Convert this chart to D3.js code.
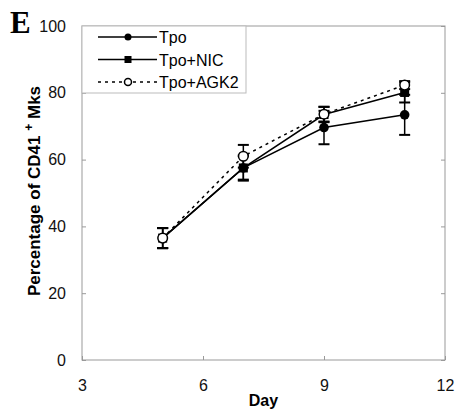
<!DOCTYPE html>
<html>
<head>
<meta charset="utf-8">
<script src="https://cdn.jsdelivr.net/npm/d3@7"></script>
<style>
  body { margin: 0; background: #fff; }
  text { font-family: "Liberation Sans", Arial, sans-serif; }
</style>
</head>
<body>
<div class="chart"></div>
<script>
// data
const days = [5, 7, 9, 11];
const seriesNames = ["Tpo", "Tpo+NIC", "Tpo+AGK2"];
const tpoValues = [36.5, 57.5, 69.6, 73.4];
const tpoErrors = [3, 3.5, 5, 6];
const nicValues = [36.5, 57.5, 73.5, 80.1];
const nicErrors = [3, 3.8, 2.3, 3];
const agkValues = [36.5, 61, 73.6, 82.3];
const agkErrors = [3, 3.4, 2.2, 1.2];
const xTicks = [3, 6, 9, 12];
const yTicks = [0, 20, 40, 60, 80, 100];

const svgWidth = 457;
const svgHeight = 415;
const margin = { top: 26, right: 12, bottom: 55, left: 82 };
const width = svgWidth - margin.left - margin.right;
const height = svgHeight - margin.top - margin.bottom;

const svg = d3.select(".chart")
  .append("svg")
  .attr("width", svgWidth)
  .attr("height", svgHeight);

const chartGroup = svg.append("g")
  .attr("transform", `translate(${margin.left}, ${margin.top})`);

// scales
const xScale = d3.scaleLinear().domain([3, 12]).range([0, width]);
const yScale = d3.scaleLinear().domain([0, 100]).range([height, 0]);

const frameColor = "#999";

// axes with inward ticks
const axisStyle = g => {
  g.select(".domain").remove();
  g.selectAll(".tick line").attr("stroke", frameColor);
  g.selectAll(".tick text").attr("font-size", 16).attr("fill", "#111");
};

chartGroup.append("g")
  .attr("transform", `translate(0, ${height})`)
  .call(d3.axisBottom(xScale).tickValues(xTicks).tickSizeInner(-4).tickSizeOuter(0).tickPadding(20))
  .call(axisStyle);

chartGroup.append("g")
  .call(d3.axisLeft(yScale).tickValues(yTicks).tickSizeInner(-4).tickSizeOuter(0).tickPadding(16))
  .call(axisStyle);

chartGroup.append("g")
  .attr("transform", `translate(${width}, 0)`)
  .call(d3.axisRight(yScale).tickValues(yTicks).tickSizeInner(-4).tickSizeOuter(0).tickFormat(""))
  .call(axisStyle);

// frame
chartGroup.append("rect")
  .attr("width", width)
  .attr("height", height)
  .attr("fill", "none")
  .attr("stroke", frameColor)
  .attr("stroke-width", 1);

// series
const series = [
  { name: seriesNames[0], values: tpoValues, errors: tpoErrors, marker: "circle", fill: "#000", dash: null },
  { name: seriesNames[1], values: nicValues, errors: nicErrors, marker: "square", fill: "#000", dash: null },
  { name: seriesNames[2], values: agkValues, errors: agkErrors, marker: "circle", fill: "#fff", dash: "3,4" }
];

const line = d3.line()
  .x((d, i) => xScale(days[i]))
  .y(d => yScale(d));

// error bars
series.forEach(s => {
  const g = chartGroup.append("g");
  s.values.forEach((v, i) => {
    const x = xScale(days[i]);
    const lo = yScale(v - s.errors[i]);
    const hi = yScale(v + s.errors[i]);
    g.append("line").attr("x1", x).attr("x2", x).attr("y1", lo).attr("y2", hi)
      .attr("stroke", "#000").attr("stroke-width", 1.5);
    [lo, hi].forEach(y => {
      g.append("line").attr("x1", x - 5.5).attr("x2", x + 5.5).attr("y1", y).attr("y2", y)
        .attr("stroke", "#000").attr("stroke-width", 2);
    });
  });
});

// lines
series.forEach(s => {
  chartGroup.append("path")
    .attr("d", line(s.values))
    .attr("fill", "none")
    .attr("stroke", "#000")
    .attr("stroke-width", 1.5)
    .attr("stroke-dasharray", s.dash);
});

function drawMarker(g, s, x, y, size) {
  if (s.marker === "square") {
    g.append("rect")
      .attr("x", x - size).attr("y", y - size)
      .attr("width", size * 2).attr("height", size * 2)
      .attr("fill", s.fill);
  } else {
    g.append("circle")
      .attr("cx", x).attr("cy", y).attr("r", size)
      .attr("fill", s.fill)
      .attr("stroke", "#000")
      .attr("stroke-width", s.fill === "#fff" ? 1.5 : 0);
  }
}

// markers
series.forEach(s => {
  const g = chartGroup.append("g");
  s.values.forEach((v, i) => drawMarker(g, s, xScale(days[i]), yScale(v), s.marker === "square" ? 4.5 : 4.8));
});

// legend
const legend = chartGroup.append("g");
legend.append("rect")
  .attr("x", 0).attr("y", 0)
  .attr("width", 164).attr("height", 67)
  .attr("fill", "#fff")
  .attr("stroke", "#bbb");

series.forEach((s, i) => {
  const y = 11 + i * 22.5;
  legend.append("line")
    .attr("x1", 16).attr("x2", 75).attr("y1", y).attr("y2", y)
    .attr("stroke", "#000").attr("stroke-width", 1.5)
    .attr("stroke-dasharray", s.dash);
  drawMarker(legend, s, 46, y, 3.5);
  legend.append("text")
    .attr("x", 77).attr("y", y + 6)
    .attr("font-size", 16)
    .text(s.name);
});

// panel letter
svg.append("text")
  .attr("x", 10).attr("y", 33)
  .attr("font-weight", "bold")
  .attr("font-size", 31)
  .style("font-family", "'Liberation Serif', 'Times New Roman', serif")
  .text("E");

// axis titles
svg.append("text")
  .attr("x", margin.left + width / 2).attr("y", 406)
  .attr("text-anchor", "middle")
  .attr("font-weight", "bold")
  .attr("font-size", 16)
  .text("Day");

const yTitle = svg.append("text")
  .attr("transform", `translate(40, 191) rotate(-90)`)
  .attr("text-anchor", "middle")
  .attr("font-weight", "bold")
  .attr("font-size", 17);
yTitle.append("tspan").text("Percentage of CD41 ");
yTitle.append("tspan").attr("dy", -7).attr("font-size", 12).text("+");
yTitle.append("tspan").attr("dy", 7).text("  Mks");
</script>
</body>
</html>
